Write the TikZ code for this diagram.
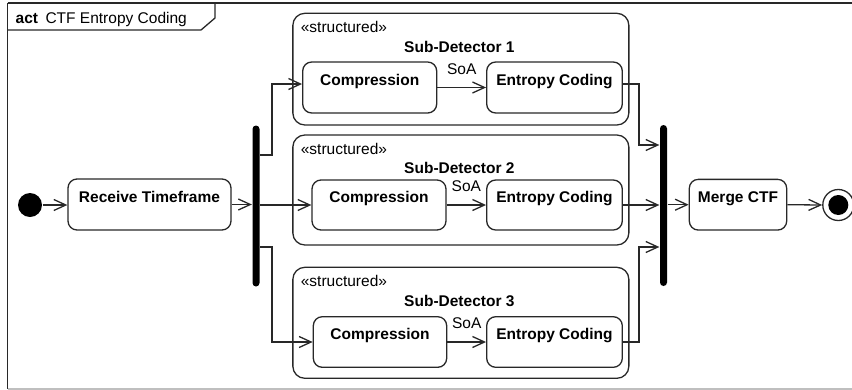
\documentclass[tikz,border=0pt]{standalone}
\usepackage{fontspec}
\setmainfont{Liberation Sans}
\usetikzlibrary{arrows.meta,calc}
\definecolor{linec}{RGB}{40,40,40}
\begin{document}
\begin{tikzpicture}[x=1pt,y=-1pt,
  font=\fontsize{15.5}{18}\selectfont,
  line width=1.3pt,
  action/.style={draw=linec, rounded corners=9pt, inner sep=0pt, minimum height=51pt,
    font=\fontsize{15.5}{18}\selectfont\bfseries, text height=11.2pt, text depth=16.2pt},
  container/.style={draw=linec, rounded corners=12pt, inner sep=0pt, minimum width=336pt, minimum height=111pt},
  syncbar/.style={fill=black, draw=none, rounded corners=3.5pt, minimum width=7pt, minimum height=161pt, inner sep=0pt},
  flow/.style={draw=linec, -{Straight Barb[length=12pt,width=11pt]}},
  lbl/.style={anchor=base, inner sep=0pt},
  stereo/.style={anchor=base west, inner sep=0pt},
  title/.style={anchor=base, inner sep=0pt, font=\fontsize{15.5}{18}\selectfont\bfseries}]
\useasboundingbox (0,0) rectangle (852,389);
\clip (0,0) rectangle (852,389);

% frame
\draw[linec, line width=1.6pt] (7.5,3) -- (7.5,389.4);
\draw[linec, line width=1.6pt] (7.5,3) -- (900,3);
\draw[black!25, line width=1.6pt] (7.5,389.2) -- (900,389.2);
\draw[linec] (7.5,30) -- (201,30) -- (215,18) -- (215,3);
\node[anchor=base west, inner sep=0pt] (hdr) at (15,23.3) {\textbf{act}\hspace{7.5pt}CTF Entropy Coding};

% initial, receive, fork
\node[circle, fill=black, minimum size=24pt, inner sep=0pt] (init) at (30,205) {};
\node[action, minimum width=163pt] (recv) at (149.5,204.5) {Receive Timeframe};
\node[syncbar] (fork) at (256,206) {};

% containers
\node[container, minimum height=111.7pt] (sd1) at (460.85,69.15) {};
\node[container, minimum height=110pt] (sd2) at (460.85,190) {};
\node[container, minimum height=111pt] (sd3) at (460.85,322.8) {};
\foreach \s/\n in {sd1/1,sd2/2,sd3/3}{
  \node[stereo] (st\n) at ($(\s.north west)+(8,20)$) {«structured»};
  \node[title] (ti\n) at ($(\s.north)+(-1.5,39.4)$) {Sub-Detector \n};
}

% actions
\node[action, minimum width=134pt] (c1) at (369.7,87.5) {Compression};
\node[action, minimum width=135.6pt] (e1) at (554.5,87.5) {Entropy Coding};
\node[action, minimum width=134pt, minimum height=50pt] (c2) at (379,205) {Compression};
\node[action, minimum width=135.6pt, minimum height=50pt] (e2) at (554.5,205) {Entropy Coding};
\node[action, minimum width=133.4pt, minimum height=50.6pt] (c3) at (380,342) {Compression};
\node[action, minimum width=135.6pt, minimum height=50.6pt] (e3) at (554.5,342) {Entropy Coding};

% join, merge, final
\node[syncbar] (join) at (663.5,205.5) {};
\node[action, minimum width=97.4pt, minimum height=50.7pt] (merge) at (738,204.7) {Merge CTF};
\node[circle, draw=linec, minimum size=31pt, inner sep=0pt] (final) at (838.3,205) {};
\node[circle, fill=black, minimum size=20pt, inner sep=0pt] (finaldot) at (final.center) {};

% connectors
\draw[flow] (init.east) -- (init.east -| recv.west);
\draw[flow] (recv.east) -- (recv.east -| fork.west);
\draw[flow] (fork.east |- 0,155) -| (272,84) -- (c1.west |- 0,84);
\draw[flow] (fork.east |- 0,205) -- (c2.west |- 0,205);
\draw[flow] (fork.east |- 0,247) -| (272,342) -- (c3.west |- 0,342);

\draw[flow] (c1.east) -- (e1.west) node[lbl, midway, yshift=13pt] (soa1) {SoA};
\draw[flow] (c2.east) -- (e2.west) node[lbl, midway, yshift=13.5pt] (soa2) {SoA};
\draw[flow] (c3.east) -- (e3.west) node[lbl, midway, yshift=13.5pt] (soa3) {SoA};

\draw[flow] (e1.east |- 0,84) -| (639,145) -- (join.west |- 0,145);
\draw[flow] (e2.east) -- (e2.east -| join.west);
\draw[flow] (e3.east |- 0,342) -| (639,247) -- (join.west |- 0,247);

\draw[flow] (join.east |- merge.west) -- (merge.west);
\draw[flow] (merge.east) -- (final.west);
\end{tikzpicture}
\end{document}
